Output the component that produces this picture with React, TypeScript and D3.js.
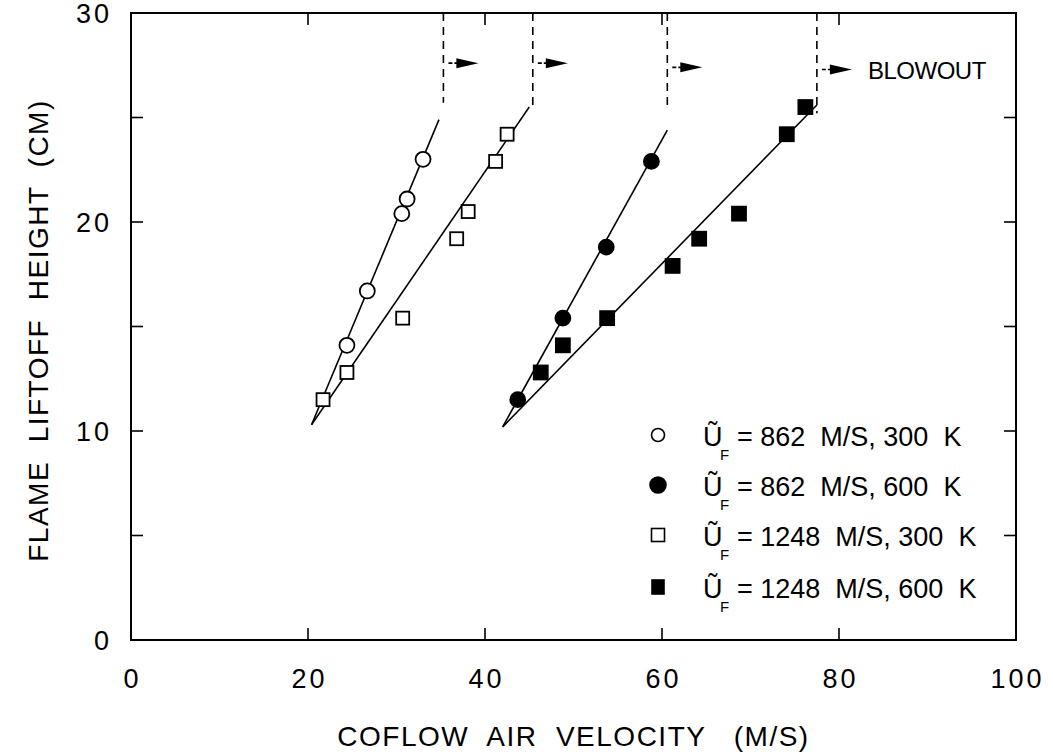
import React from 'react';
import * as d3 from 'd3';

// data: [coflow velocity (m/s), liftoff height (cm)]
const openCircles: [number, number][] = [[24.4, 14.1], [26.7, 16.7], [30.6, 20.4], [31.2, 21.1], [33.0, 23.0]];
const filledCircles: [number, number][] = [[43.7, 11.5], [48.8, 15.4], [53.7, 18.8], [58.8, 22.9]];
const openSquares: [number, number][] = [[21.7, 11.5], [24.4, 12.8], [30.7, 15.4], [36.8, 19.2], [38.1, 20.5], [41.2, 22.9], [42.5, 24.2]];
const filledSquares: [number, number][] = [[46.3, 12.8], [48.8, 14.1], [53.8, 15.4], [61.2, 17.9], [64.2, 19.2], [68.7, 20.4], [74.1, 24.2], [76.2, 25.5]];

// straight fit lines, end points
const fitOpenCircles: [number, number][] = [[20.4, 10.3], [34.8, 24.9]];
const fitOpenSquares: [number, number][] = [[20.4, 10.3], [45.0, 25.5]];
const fitFilledCircles: [number, number][] = [[42.0, 10.2], [60.6, 24.4]];
const fitFilledSquares: [number, number][] = [[42.0, 10.2], [77.5, 25.6]];

// blowout limits
const blowoutX = [35.3, 45.4, 60.6, 77.5];
const blowoutBottom = [25.7, 25.5, 25.4, 25.2];
const blowoutArrowY = [27.6, 27.6, 27.4, 27.3];

const xTicks = [0, 20, 40, 60, 80, 100];
const yTicks = [0, 10, 20, 30];
const yMinorTicks = [5, 10, 15, 20, 25];

const legendLabels = ['= 862  M/S, 300  K', '= 862  M/S, 600  K', '= 1248  M/S, 300  K', '= 1248  M/S, 600  K'];
const legendMarkers = ['openCircle', 'filledCircle', 'openSquare', 'filledSquare'];

const FONT = '"Liberation Sans", Arial, Helvetica, sans-serif';

export default function App() {
  const width = 1053;
  const height = 752;
  const left = 131, right = 1016, top = 13, bottom = 640;

  const x = d3.scaleLinear().domain([0, 100]).range([left, right]);
  const y = d3.scaleLinear().domain([0, 30]).range([bottom, top]);
  const line = d3.line<[number, number]>().x(d => x(d[0])).y(d => y(d[1]));

  const circle = (d: [number, number], filled: boolean, key: string) => (
    <circle key={key} cx={x(d[0])} cy={y(d[1])} r={7.5}
      fill={filled ? '#000' : '#fff'} stroke="#000" strokeWidth={1.8} />
  );
  const square = (d: [number, number], filled: boolean, key: string) => {
    const s = filled ? 14 : 13;
    return (
      <rect key={key} x={x(d[0]) - s / 2} y={y(d[1]) - s / 2} width={s} height={s}
        fill={filled ? '#000' : '#fff'} stroke="#000" strokeWidth={1.8} />
    );
  };

  const legendX = 658;
  const legendY = [435, 485, 535, 587];
  const pre = { whiteSpace: 'pre' as const };

  return (
    <svg width={width} height={height} style={{ position: 'absolute', left: 0, top: 0, background: '#fff' }}
      fontFamily={FONT}>
      <rect width={width} height={height} fill="#fff" />

      {/* fit lines */}
      {[fitOpenCircles, fitOpenSquares, fitFilledCircles, fitFilledSquares].map((f, i) => (
        <path key={'fit' + i} d={line(f) || ''} fill="none" stroke="#000" strokeWidth={1.6} />
      ))}

      {/* blowout dashed lines and arrows */}
      {blowoutX.map((bx, i) => {
        const px = x(bx);
        const ay = y(blowoutArrowY[i]);
        return (
          <g key={'bo' + i}>
            <line x1={px} x2={px} y1={y(30)} y2={y(blowoutBottom[i])} stroke="#000" strokeWidth={1.6} strokeDasharray="8,6" />
            <line x1={px + 5} x2={px + 14} y1={ay} y2={ay} stroke="#000" strokeWidth={1.6} strokeDasharray="4,2" />
            <path d={`M${px + 13},${ay - 5} L${px + 35},${ay} L${px + 13},${ay + 5} Z`} fill="#000" />
          </g>
        );
      })}
      <text x={868} y={79} fontSize={24} fill="#000" letterSpacing={-0.5}>BLOWOUT</text>

      {/* markers */}
      {openSquares.map((d, i) => square(d, false, 'os' + i))}
      {filledSquares.map((d, i) => square(d, true, 'fs' + i))}
      {openCircles.map((d, i) => circle(d, false, 'oc' + i))}
      {filledCircles.map((d, i) => circle(d, true, 'fc' + i))}

      {/* frame */}
      <rect x={left} y={top} width={right - left} height={bottom - top} fill="none" stroke="#000" strokeWidth={2} />
      {xTicks.slice(1, -1).map(t => (
        <g key={'xt' + t}>
          <line x1={x(t)} x2={x(t)} y1={bottom} y2={bottom - 12} stroke="#000" strokeWidth={1.6} />
          <line x1={x(t)} x2={x(t)} y1={top} y2={top + 12} stroke="#000" strokeWidth={1.6} />
        </g>
      ))}
      {yMinorTicks.map(t => (
        <g key={'yt' + t}>
          <line x1={left} x2={left + 12} y1={y(t)} y2={y(t)} stroke="#000" strokeWidth={1.6} />
          <line x1={right} x2={right - 12} y1={y(t)} y2={y(t)} stroke="#000" strokeWidth={1.6} />
        </g>
      ))}

      {/* tick labels */}
      {xTicks.map(t => (
        <text key={'xl' + t} x={x(t) + 1.5} y={688} textAnchor="middle" fontSize={27} letterSpacing={3}>{t}</text>
      ))}
      {yTicks.map(t => (
        <text key={'yl' + t} x={112} y={y(t) + 10} textAnchor="end" fontSize={27} letterSpacing={3}>{t}</text>
      ))}

      {/* axis titles */}
      <text x={(left + right) / 2} y={746} textAnchor="middle" fontSize={28} letterSpacing={1.5} style={pre}>
        {'COFLOW  AIR  VELOCITY   (M/S)'}
      </text>
      <text transform={`translate(48,${(top + bottom) / 2 + 4}) rotate(-90)`} textAnchor="middle" fontSize={28}
        letterSpacing={1.5} style={pre}>
        {'FLAME  LIFTOFF  HEIGHT  (CM)'}
      </text>

      {/* legend */}
      {legendLabels.map((lab, i) => {
        const ly = legendY[i];
        const m = legendMarkers[i];
        const filled = m.startsWith('filled');
        return (
          <g key={'lg' + i}>
            {m.endsWith('Circle')
              ? <circle cx={legendX} cy={ly} r={filled ? 8 : 6.5} fill={filled ? '#000' : '#fff'} stroke="#000" strokeWidth={1.6} />
              : <rect x={legendX - (filled ? 6 : 6.5)} y={ly - (filled ? 7 : 6.5)} width={filled ? 12 : 13} height={filled ? 14 : 13}
                  fill={filled ? '#000' : '#fff'} stroke="#000" strokeWidth={1.6} />}
            <text x={703} y={ly + 11} fontSize={27}>Ũ</text>
            <text x={720} y={ly + 25} fontSize={15}>F</text>
            <text x={737} y={ly + 11} fontSize={27} style={pre}>{lab}</text>
          </g>
        );
      })}
    </svg>
  );
}
